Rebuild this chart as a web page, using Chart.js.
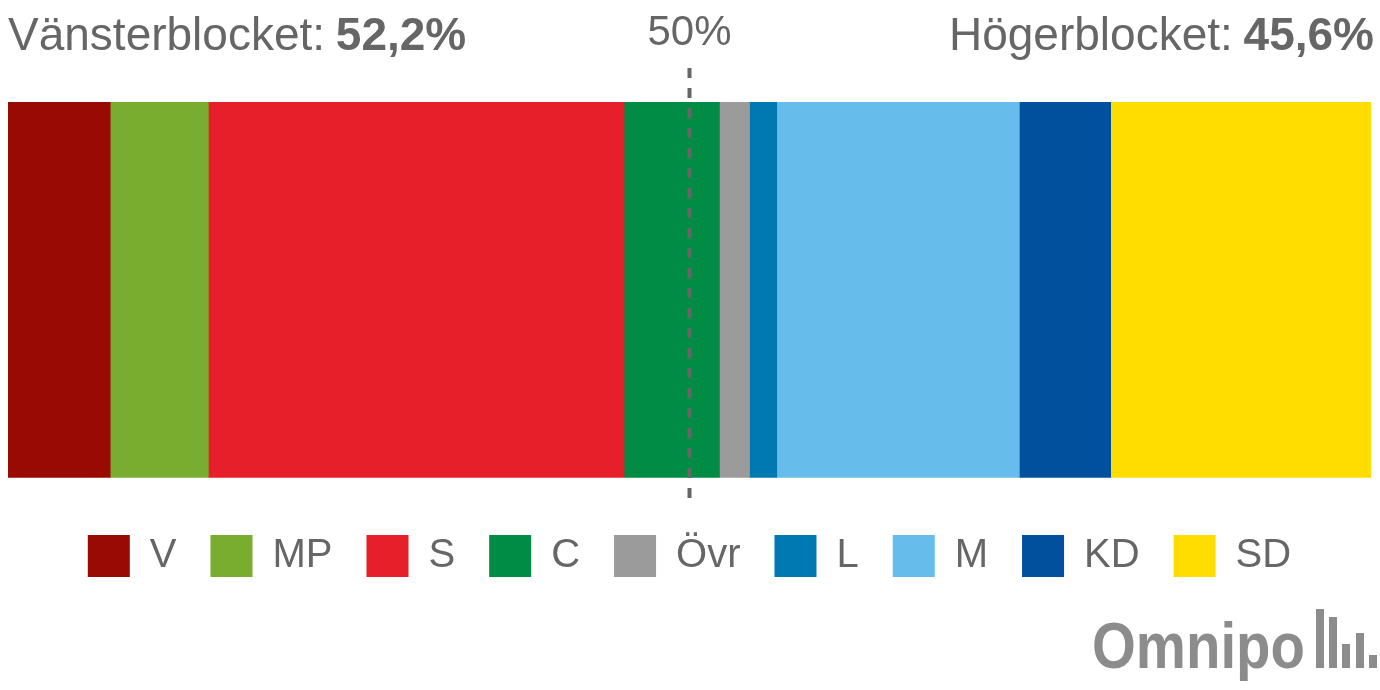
<!DOCTYPE html>
<html lang="sv">
<head>
    <meta charset="UTF-8">
    <title>Vänsterblocket mot Högerblocket</title>
    <script src="https://cdn.jsdelivr.net/npm/chart.js"></script>
    <style>
        html, body { margin: 0; padding: 0; background: #fff; }
        #wrap { width: 1380px; height: 690px; position: relative; }
    </style>
</head>
<body>
    <div id="wrap">
        <canvas id="blocChart" width="1380" height="690"></canvas>
    </div>

    <script>
        // Party shares (%)
        const parties = ['V', 'MP', 'S', 'C', 'Övr', 'L', 'M', 'KD', 'SD'];
        const shares = [7.5, 7.2, 30.5, 7.0, 2.2, 2.0, 17.8, 6.7, 19.1];
        const partyColors = ['#990a05', '#79ad2f', '#e61f2b', '#008c45', '#9b9b9b', '#0078b2', '#66bdec', '#00509d', '#ffdd00'];

        const blocLabels = ['Vänsterblocket: ', 'Högerblocket: '];
        const blocValues = ['52,2%', '45,6%'];
        const midLabel = '50%';
        const midValue = 50;

        const textGrey = '#666666';
        const fontFamily = '"Liberation Sans", Arial, sans-serif';

        // Titles, 50% marker and logo
        const overlayPlugin = {
            id: 'overlay',
            afterDatasetsDraw(chart) {
                const { ctx, scales: { x } } = chart;
                const xm = x.getPixelForValue(midValue);
                ctx.save();
                ctx.strokeStyle = textGrey;
                ctx.lineWidth = 4;
                ctx.setLineDash([10, 10]);
                ctx.beginPath();
                ctx.moveTo(xm, 68);
                ctx.lineTo(xm, 500);
                ctx.stroke();
                ctx.restore();
            },
            afterDraw(chart) {
                const { ctx, chartArea } = chart;
                ctx.save();
                ctx.fillStyle = textGrey;
                ctx.textBaseline = 'alphabetic';

                // left bloc
                ctx.textAlign = 'left';
                ctx.font = '46px ' + fontFamily;
                ctx.fillText(blocLabels[0], chartArea.left, 50);
                const w0 = ctx.measureText(blocLabels[0]).width;
                ctx.font = 'bold 46px ' + fontFamily;
                ctx.fillText(blocValues[0], chartArea.left + w0 - 2, 50);

                // right bloc
                ctx.textAlign = 'right';
                ctx.font = 'bold 46px ' + fontFamily;
                ctx.fillText(blocValues[1], 1374, 50);
                const w1 = ctx.measureText(blocValues[1]).width;
                ctx.font = '46px ' + fontFamily;
                ctx.fillText(blocLabels[1], 1374 - w1 + 2, 50);

                // 50% label
                ctx.textAlign = 'center';
                ctx.font = '42px ' + fontFamily;
                ctx.fillText(midLabel, chart.scales.x.getPixelForValue(midValue), 45);

                // logo
                ctx.fillStyle = '#8c8c8c';
                ctx.textAlign = 'left';
                ctx.font = 'bold 64px ' + fontFamily;
                const lw = ctx.measureText('Omnipo').width;
                ctx.save();
                ctx.translate(1092, 668);
                ctx.scale(213 / lw, 1);
                ctx.fillText('Omnipo', 0, 0);
                ctx.restore();
                const bars = [[1316, 609], [1329, 617], [1342, 644], [1356, 633], [1369, 655]];
                bars.forEach(([bx, by]) => ctx.fillRect(bx, by, 8, 668 - by));
                ctx.restore();
            }
        };

        const ctx = document.getElementById('blocChart').getContext('2d');

        new Chart(ctx, {
            type: 'bar',
            data: {
                labels: [''],
                datasets: parties.map((p, i) => ({
                    label: p,
                    data: [shares[i]],
                    backgroundColor: partyColors[i],
                    borderWidth: 0,
                    barPercentage: 1,
                    categoryPercentage: 1
                }))
            },
            options: {
                indexAxis: 'y',
                responsive: false,
                animation: false,
                layout: {
                    padding: { top: 102, left: 8, right: 9, bottom: 103 }
                },
                scales: {
                    x: { stacked: true, min: 0, max: 100, display: false },
                    y: { stacked: true, display: false }
                },
                plugins: {
                    tooltip: { enabled: false },
                    legend: {
                        position: 'bottom',
                        title: {
                            display: true,
                            text: '',
                            font: { size: 1 },
                            padding: { top: 22, bottom: 0 }
                        },
                        labels: {
                            boxWidth: 42,
                            boxHeight: 42,
                            padding: 34,
                            color: textGrey,
                            font: { family: fontFamily, size: 40 }
                        }
                    }
                }
            },
            plugins: [overlayPlugin]
        });
    </script>
</body>
</html>
